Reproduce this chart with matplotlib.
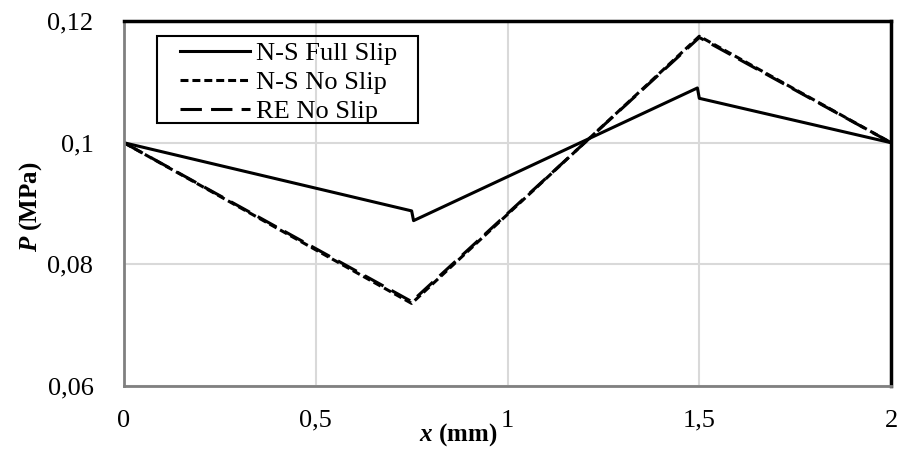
import matplotlib
matplotlib.use('Agg')
import matplotlib.pyplot as plt
from matplotlib.patches import Rectangle
from matplotlib.ticker import FuncFormatter

plt.rcParams['font.family'] = 'Liberation Serif'
plt.rcParams['mathtext.fontset'] = 'custom'
plt.rcParams['mathtext.rm'] = 'Liberation Serif'
plt.rcParams['mathtext.bf'] = 'Liberation Serif:bold'
plt.rcParams['mathtext.bfit'] = 'Liberation Serif:italic:bold'

# pressure along the channel
full_x = [0, 0.75, 0.755, 1.495, 1.5, 2]
full_p = [0.1, 0.0888, 0.0872, 0.1090, 0.1073, 0.1]

ns_x = [0, 0.75, 1.5, 2]
ns_p = [0.1, 0.0736, 0.1175, 0.1]

re_x = [0, 0.75, 1.5, 2]
re_p = [0.1, 0.0739, 0.1173, 0.1]

labels = ['N-S Full Slip', 'N-S No Slip', 'RE No Slip']
x_ticks = [0, 0.5, 1, 1.5, 2]
y_ticks = [0.06, 0.08, 0.1, 0.12]

fig = plt.figure(figsize=(9.01, 4.57), dpi=100)
ax = fig.add_axes([0.1376, 0.155, 0.8514, 0.799])

lw = 2.2
ax.plot(full_x, full_p, color='black', lw=lw, label=labels[0])
ax.plot(ns_x, ns_p, color='black', lw=lw, dashes=(2.6, 1.3), label=labels[1])
ax.plot(re_x, re_p, color='black', lw=lw, dashes=(7, 3), label=labels[2])

ax.set_xlim(0, 2)
ax.set_ylim(0.06, 0.12)
ax.set_xticks(x_ticks)
ax.set_yticks(y_ticks)
fmt = FuncFormatter(lambda v, pos: ('%g' % v).replace('.', ','))
ax.xaxis.set_major_formatter(fmt)
ax.yaxis.set_major_formatter(fmt)
ax.tick_params(axis='both', length=0, labelsize=19)
ax.tick_params(axis='x', pad=17)
ax.tick_params(axis='y', pad=22)

ax.grid(True, color='#d9d9d9', lw=1.5)
ax.set_axisbelow(True)

ax.spines['top'].set_color('black')
ax.spines['top'].set_linewidth(2.5)
ax.spines['right'].set_color('black')
ax.spines['right'].set_linewidth(2.5)
for s in ['left', 'bottom']:
    ax.spines[s].set_color('#808080')
    ax.spines[s].set_linewidth(2)

ax.set_xlabel(r'$\mathbfit{x}$ (mm)', fontsize=18, fontweight='bold')
ax.xaxis.set_label_coords(0.435, -0.095)
ax.set_ylabel(r'$\mathbfit{P}$ (MPa)', fontsize=18, fontweight='bold')
ax.yaxis.set_label_coords(-0.104, 0.49)

# legend text without frame, box drawn separately (Excel style padding)
ax.legend(loc='upper left', bbox_to_anchor=(0.073, 0.944), fontsize=19,
          handlelength=2.65, handletextpad=0.23, labelspacing=0.21,
          borderpad=0, borderaxespad=0, frameon=False)
ax.add_patch(Rectangle((0.043, 0.7205), 0.34, 0.2385, transform=ax.transAxes,
                       fill=False, edgecolor='black', lw=1.5, zorder=5))

fig.savefig('out.png', dpi=100)
